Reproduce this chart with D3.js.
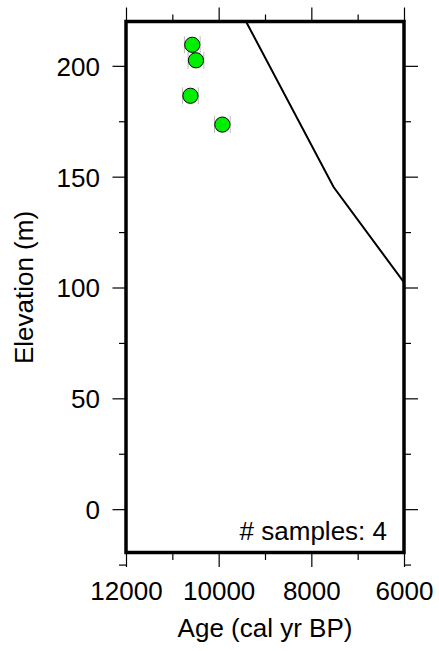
<!DOCTYPE html>
<html><head><meta charset="utf-8">
<script src="https://cdn.jsdelivr.net/npm/d3@7"></script>
<style>body{margin:0;background:#fff}svg{display:block}text{font-family:"Liberation Sans",Arial,Helvetica,sans-serif}</style>
</head><body>
<svg id="c" width="439" height="651"></svg>
<script>
const sampleAge = [10570, 10490, 10610, 9920];
const sampleElev = [209.5, 202.5, 186.5, 173.5];
const sampleAgeErr = [170, 170, 170, 170];
const curveAge = [9410, 7520, 6000];
const curveElev = [220, 145.3, 102.3];
const xMajor = [12000, 10000, 8000, 6000];
const xMinor = [11000, 9000, 7000];
const yMajor = [0, 50, 100, 150, 200];
const yMinor = [-25, 25, 75, 125, 175];
const xTitle = "Age (cal yr BP)";
const yTitle = "Elevation (m)";
const note = "# samples: 4";

const svg = d3.select("#c");
const L = 126, R = 404, T = 21.5, B = 553.5;
const x = d3.scaleLinear().domain([12000, 6000]).range([L, R]);
const y = d3.scaleLinear().domain([-20, 220]).range([B, T]);
const fs = 26;

svg.append("defs").append("clipPath").attr("id", "clip")
  .append("rect").attr("x", L).attr("y", T).attr("width", R - L).attr("height", B - T);

function ax(gen, tx, ty, vals, size) {
  const g = svg.append("g").attr("transform", `translate(${tx},${ty})`)
    .call(gen.tickValues(vals).tickSize(size).tickFormat(""));
  g.select(".domain").remove();
  g.selectAll(".tick line").attr("stroke", "#000").attr("stroke-width", 1.2);
  return g;
}
ax(d3.axisTop(x), 0, T, xMajor, 14);
ax(d3.axisTop(x), 0, T, xMinor, 7);
ax(d3.axisRight(y), R, 0, yMajor, 14);
ax(d3.axisRight(y), R, 0, yMinor, 7);
ax(d3.axisBottom(x), 0, B - 1, xMinor, 7.5);
const gb = svg.append("g").attr("transform", `translate(0,${B - 1})`)
  .call(d3.axisBottom(x).tickValues(xMajor).tickSize(14.5).tickFormat(d3.format("d")));
gb.select(".domain").remove();
gb.selectAll(".tick line").attr("stroke", "#000").attr("stroke-width", 1.2);
gb.selectAll(".tick text").attr("y", 600 - (B - 1)).attr("dy", null)
  .attr("font-size", fs).attr("fill", "#000");
ax(d3.axisLeft(y), L, 0, yMinor, 7);
const gl = svg.append("g").attr("transform", `translate(${L},0)`)
  .call(d3.axisLeft(y).tickValues(yMajor).tickSize(13.5).tickFormat(d3.format("d")));
gl.select(".domain").remove();
gl.selectAll(".tick line").attr("stroke", "#000").attr("stroke-width", 1.2);
gl.selectAll(".tick text").attr("x", 100 - L).attr("dy", "0.36em")
  .attr("font-size", fs).attr("fill", "#000").attr("text-anchor", "end");

// model curve
svg.append("path")
  .datum(curveAge.map((a, i) => [a, curveElev[i]]))
  .attr("clip-path", "url(#clip)")
  .attr("fill", "none").attr("stroke", "#000").attr("stroke-width", 2)
  .attr("d", d3.line().x(d => x(d[0])).y(d => y(d[1])));

// error bars
const pts = sampleAge.map((a, i) => ({a, e: sampleElev[i], err: sampleAgeErr[i]}));
const eg = svg.append("g").attr("stroke", "#bbb").attr("stroke-width", 1).attr("fill", "none");
pts.forEach(p => {
  eg.append("line").attr("x1", x(p.a - p.err)).attr("x2", x(p.a + p.err)).attr("y1", y(p.e)).attr("y2", y(p.e));
  [p.a - p.err, p.a + p.err].forEach(v => eg.append("line")
    .attr("x1", x(v)).attr("x2", x(v)).attr("y1", y(p.e) - 8.5).attr("y2", y(p.e) + 8.5));
});
svg.append("g").selectAll("circle").data(pts).join("circle")
  .attr("cx", d => x(d.a)).attr("cy", d => y(d.e)).attr("r", 7.6)
  .attr("fill", "#00ee00").attr("stroke", "#000").attr("stroke-width", 1);

// frame
svg.append("rect").attr("x", L).attr("y", T).attr("width", R - L).attr("height", B - 1 - T)
  .attr("fill", "none").attr("stroke", "#000").attr("stroke-width", 3.5);

svg.append("text").attr("x", R - 17).attr("y", 540).attr("text-anchor", "end")
  .attr("font-size", fs).text(note);
svg.append("text").attr("x", (L + R) / 2).attr("y", 637).attr("text-anchor", "middle")
  .attr("font-size", fs).text(xTitle);
svg.append("text").attr("transform", `translate(33,${y(100)}) rotate(-90)`)
  .attr("text-anchor", "middle").attr("font-size", fs).text(yTitle);
</script>
</body></html>
